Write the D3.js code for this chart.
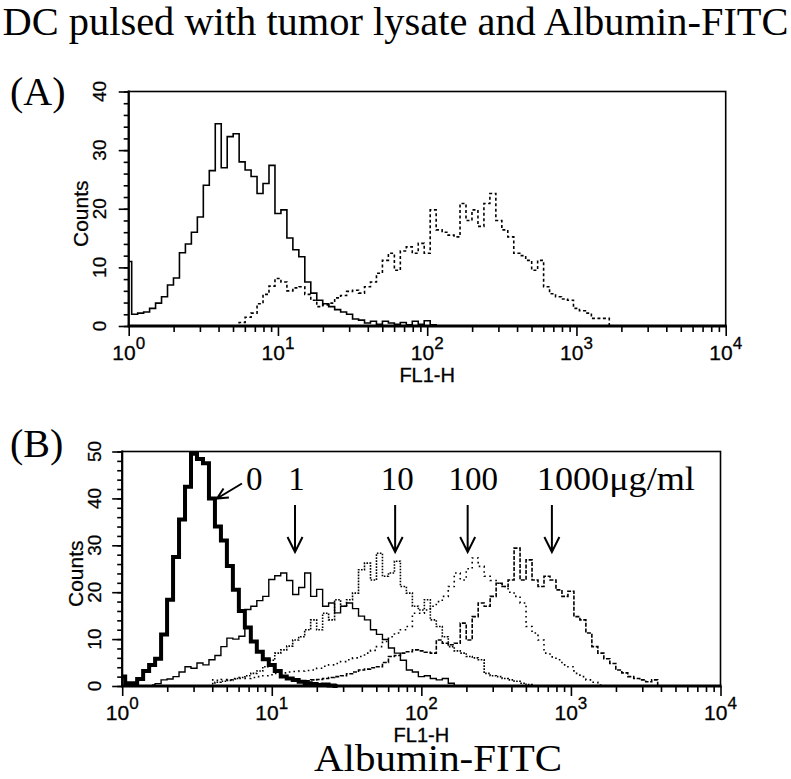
<!DOCTYPE html>
<html><head><meta charset="utf-8">
<script src="https://cdn.jsdelivr.net/npm/d3@7"></script>
<style>body{margin:0;background:#fff}svg{display:block}</style>
</head><body>
<svg id="c" width="791" height="779"></svg>
<script>
// ---------------- DATA ----------------
const binStep = 0.04;                 // histogram bin width in log10 decades
const decades = [1, 10, 100, 1000, 10000];
const decadeExp = ["0", "1", "2", "3", "4"];
const minorMult = [2, 3, 4, 5, 6, 7, 8, 9];
const yTicksA = [0, 10, 20, 30, 40];
const yTicksB = [0, 10, 20, 30, 40, 50];

// Panel A : control DC (solid) and DC pulsed with tumor lysate + Albumin-FITC (dotted)
const aControlStart = 0.00;
const aControl = [11,2,2.2,2.4,3,3.9,5,7,8.2,12.5,14,16,18.6,24,26.5,34.5,27,32.3,32.8,28,26.6,25.5,22.6,24.3,27.4,19.2,19.8,15,13,11.8,7.5,5.6,4.4,3.8,3.3,2.8,2.4,2,1.2,1,0.5,0.8,0.3,0.8,0.5,0.3,0.6,0.2,0.8,0.3,0.9,0.2,0];
const aPulsedStart = 0.72;
const aPulsed = [0,0.6,1.5,2.2,3.8,5.4,6.8,8.1,7.5,6,6.5,6.7,5.4,4.4,3.3,3.6,3.9,4.8,5.2,5.9,6.1,5.6,6.7,7.5,9,11.2,12.4,9.5,12.8,13.5,12.4,14.1,12.4,19.8,16.4,16,15.5,15.2,20.9,18,19.8,17,20.9,22.6,18,16.4,15.2,12.4,12,11.2,9.5,11.2,6.7,5.5,5,4.6,4.4,3,2.6,2.2,1.3,1.3,1.3,0];

// Panel B : Albumin-FITC dose 0, 1, 10, 100, 1000 ug/ml
const b0Start = 0.00;
const b0 = [2,0.6,0.6,1.5,3.2,4.5,5.8,11,18.4,27.5,35.5,42.5,49.5,48.4,47.5,40,34,31,25.6,20.5,16,12.5,9.5,7.3,5.7,4.5,3.2,2,1.6,1.3,0.9,0.6,0.4,0.2,0.3,0.1,0];
const b1Start = 0.20;
const b1 = [0.2,0.5,1.3,1.5,2,3,4.1,3.8,4.9,4.5,5.6,6.5,8.4,10.2,10,10.6,16.3,17,18.2,19.1,22.7,23.5,24.1,22.5,19.5,21,24.1,19.1,20.6,17,17.7,15.6,17,17.7,16.5,14.9,14.1,12,11,9.9,8.1,7,5.5,3.4,3,2,2.2,1.6,1.3,1.6,0.6,0];
const b10Start = 0.60;
const b10 = [0.5,0.8,1,1.2,1.6,1.8,2.2,2.7,3.2,4.1,5.5,7,7.7,8.5,9.8,10.5,12,14.1,12,15.5,14.1,18.4,17,18.4,19.8,24.8,26.2,22.6,28.3,23.4,24.1,26.6,21.2,19.8,17,16.2,18.4,14.1,12.7,10.5,8.4,7.5,7,6.3,6,5.6,2.7,2.2,2,1.6,1.3,1,0.6,0.3,0];
const b100Start = 0.60;
const b100 = [1.3,1.2,1.4,1.3,1.5,1.6,1.6,1.8,2,2.2,2.4,2.7,2.8,3,3.1,3.2,3.3,3.4,3.8,4.2,4.5,4.8,5.2,5.6,6,6.3,7,7.6,8.4,9.5,10.5,11.3,12,12.7,15.5,15.5,16.2,17,18,19.1,21.2,24.1,22.6,25,27.3,25.5,23.4,22.5,21.9,21.2,20,19.1,17.7,12.7,11.3,9.8,7,6.2,5.6,4.5,4.1,2.7,2,1.3,0.8,0.2,0];
const b1000Start = 1.20;
const b1000 = [0.8,1.1,1.3,1.4,1.6,1.8,2,2.2,2.6,3,3.4,3.6,3.9,4.1,5,6.3,6.5,7,7.3,7.7,7.5,7.2,7,9.8,9.1,8.8,9.1,13.4,9.8,14.8,17.7,17,19.1,21.9,21.2,22.6,29.4,22.6,26.9,22.6,21.2,23.4,22.6,20.5,19.1,20.2,14.8,14.1,11.3,8.4,7,5.8,4.8,3.4,2.8,2,1.6,1.3,0.9,1.3,0];

const doseLabels = ["0", "1", "10", "100", "1000\u03bcg/ml"];
const doseArrowAt = [4.3, 14.3, 66.8, 204, 746];   // FL1-H value each arrow points to

// ---------------- DRAW ----------------
const svg = d3.select("#c");
const serif = "'Liberation Serif','Times New Roman',Times,serif";
const sans = "'Liberation Sans',Arial,Helvetica,sans-serif";

svg.append("text").attr("x", 395.5).attr("y", 35)
  .attr("text-anchor", "middle").attr("font-family", serif).attr("font-size", 39)
  .attr("textLength", 786).attr("lengthAdjust", "spacingAndGlyphs")
  .text("DC pulsed with tumor lysate and Albumin-FITC");

function toPoints(start, arr) {
  return arr.map((v, i) => [Math.pow(10, start + i * binStep), v]);
}

function panel(cfg) {
  const x = d3.scaleLog().domain([1, 10000]).range([cfg.left, cfg.right]);
  const y = d3.scaleLinear().domain([0, cfg.ymax]).range([cfg.bottom, cfg.top]);
  const g = svg.append("g");

  g.append("text").attr("x", 10).attr("y", cfg.labelY)
    .attr("font-family", serif).attr("font-size", 40).text(cfg.label);

  // series
  cfg.series.forEach(s => {
    const line = d3.line().x(d => x(d[0])).y(d => y(d[1])).curve(d3.curveStep);
    g.append("path").datum(toPoints(s.start, s.data))
      .attr("fill", "none").attr("stroke", "#000")
      .attr("stroke-width", s.w).attr("stroke-dasharray", s.dash || null)
      .attr("stroke-linejoin", "miter")
      .attr("d", line);
  });

  // frame
  g.append("rect").attr("x", cfg.left).attr("y", cfg.top)
    .attr("width", cfg.right - cfg.left).attr("height", cfg.bottom - cfg.top)
    .attr("fill", "none").attr("stroke", "#000").attr("stroke-width", 1.6);

  // x axis ticks
  const minorVals = [];
  decades.slice(0, 4).forEach(d => minorMult.forEach(m => minorVals.push(d * m)));
  const axMinor = d3.axisBottom(x).tickValues(minorVals).tickSize(6).tickFormat("");
  const axMajor = d3.axisBottom(x).tickValues(decades).tickSize(10).tickFormat("");
  [axMinor, axMajor].forEach(ax => {
    const a = g.append("g").attr("transform", `translate(0,${cfg.bottom})`).call(ax);
    a.select(".domain").remove();
    a.selectAll("line").attr("stroke", "#000").attr("stroke-width", 1.6);
  });
  g.append("line").attr("x1", cfg.left - 1).attr("x2", cfg.right + 1)
    .attr("y1", cfg.bottom).attr("y2", cfg.bottom)
    .attr("stroke", "#000").attr("stroke-width", 2.8);

  decades.forEach((d, i) => {
    const t = g.append("text").attr("x", x(d)).attr("y", cfg.bottom + 34)
      .attr("text-anchor", "middle").attr("font-family", sans).attr("font-size", 21)
      .attr("stroke", "#000").attr("stroke-width", 0.3);
    t.append("tspan").text("10");
    t.append("tspan").attr("dy", -11).attr("font-size", 17).text(decadeExp[i]);
  });
  g.append("text").attr("x", x(100)).attr("y", cfg.bottom + 56)
    .attr("text-anchor", "middle").attr("font-family", sans).attr("font-size", 20)
    .attr("stroke", "#000").attr("stroke-width", 0.3)
    .text("FL1-H");

  // y axis ticks
  const yMinor = d3.range(0, cfg.ymax + 0.01, 2);
  const ayMinor = d3.axisLeft(y).tickValues(yMinor).tickSize(5).tickFormat("");
  const ayMajor = d3.axisLeft(y).tickValues(cfg.yTicks).tickSize(10).tickFormat("");
  [ayMinor, ayMajor].forEach(ax => {
    const a = g.append("g").attr("transform", `translate(${cfg.left},0)`).call(ax);
    a.select(".domain").remove();
    a.selectAll("line").attr("stroke", "#000").attr("stroke-width", 1.6);
  });
  g.append("line").attr("x1", cfg.left).attr("x2", cfg.left)
    .attr("y1", cfg.top - 1).attr("y2", cfg.bottom + 1)
    .attr("stroke", "#000").attr("stroke-width", 2.2);

  cfg.yTicks.forEach(v => {
    g.append("text")
      .attr("transform", `translate(${cfg.left - cfg.yLabOff},${y(v)}) rotate(-90)`)
      .attr("text-anchor", "middle").attr("font-family", sans).attr("font-size", 19)
      .attr("stroke", "#000").attr("stroke-width", 0.25)
      .text(v);
  });
  g.append("text")
    .attr("transform", `translate(${cfg.left - cfg.yLabOff - 18},${(cfg.top + cfg.bottom) / 2 + 5}) rotate(-90)`)
    .attr("text-anchor", "middle").attr("font-family", sans).attr("font-size", 21)
    .attr("stroke", "#000").attr("stroke-width", 0.25)
    .text("Counts");

  return { x, y, g };
}

panel({
  label: "(A)", labelY: 105, left: 128.7, right: 725.7, top: 91.5, bottom: 326,
  ymax: 40, yTicks: yTicksA, yLabOff: 23,
  series: [
    { start: aControlStart, data: aControl, w: 1.6 },
    { start: aPulsedStart, data: aPulsed, w: 1.6, dash: "3,2.5" }
  ]
});

const pB = panel({
  label: "(B)", labelY: 457, left: 122.2, right: 720.5, top: 451.5, bottom: 686,
  ymax: 50, yTicks: yTicksB, yLabOff: 21,
  series: [
    { start: b10Start, data: b10, w: 1.6, dash: "1.6,1.4" },
    { start: b100Start, data: b100, w: 1.6, dash: "1.6,3.5" },
    { start: b1000Start, data: b1000, w: 1.6, dash: "4,1.6" },
    { start: b1Start, data: b1, w: 1.4 },
    { start: b0Start, data: b0, w: 4 }
  ]
});

// dose annotations
const xB = pB.x, gB = pB.g;
const arrowTop = 505, arrowBot = 552, labelBase = 490;
const labelOffsets = [null, 1.5, 2, 5.5, -15];
doseLabels.forEach((lab, i) => {
  if (i === 0) {
    const tipX = xB(doseArrowAt[0]), tipY = 498.5;
    const tailX = tipX + 25, tailY = tipY - 15;
    const ang = Math.atan2(tailY - tipY, tailX - tipX);
    const hl = 12, ha = 0.45;
    gB.append("path")
      .attr("d", `M${tailX},${tailY}L${tipX},${tipY}` +
        `M${tipX + hl * Math.cos(ang - ha)},${tipY + hl * Math.sin(ang - ha)}L${tipX},${tipY}` +
        `L${tipX + hl * Math.cos(ang + ha)},${tipY + hl * Math.sin(ang + ha)}`)
      .attr("fill", "none").attr("stroke", "#000").attr("stroke-width", 2);
    gB.append("text").attr("x", tailX + 4).attr("y", labelBase)
      .attr("font-family", serif).attr("font-size", 33).text(lab);
  } else {
    const ax = xB(doseArrowAt[i]);
    gB.append("path")
      .attr("d", `M${ax},${arrowTop}L${ax},${arrowBot}M${ax - 7.5},${arrowBot - 15}L${ax},${arrowBot}L${ax + 7.5},${arrowBot - 15}`)
      .attr("fill", "none").attr("stroke", "#000").attr("stroke-width", 2);
    const t = gB.append("text").attr("y", labelBase)
      .attr("font-family", serif).attr("font-size", 33).text(lab);
    if (i === 4) t.attr("x", ax + labelOffsets[i]).attr("text-anchor", "start")
      .attr("textLength", 158).attr("lengthAdjust", "spacingAndGlyphs");
    else t.attr("x", ax + labelOffsets[i]).attr("text-anchor", "middle");
  }
});

svg.append("text").attr("x", 438).attr("y", 770.5)
  .attr("text-anchor", "middle").attr("font-family", serif).attr("font-size", 38)
  .attr("textLength", 248).attr("lengthAdjust", "spacingAndGlyphs")
  .text("Albumin-FITC");
</script>
</body></html>
